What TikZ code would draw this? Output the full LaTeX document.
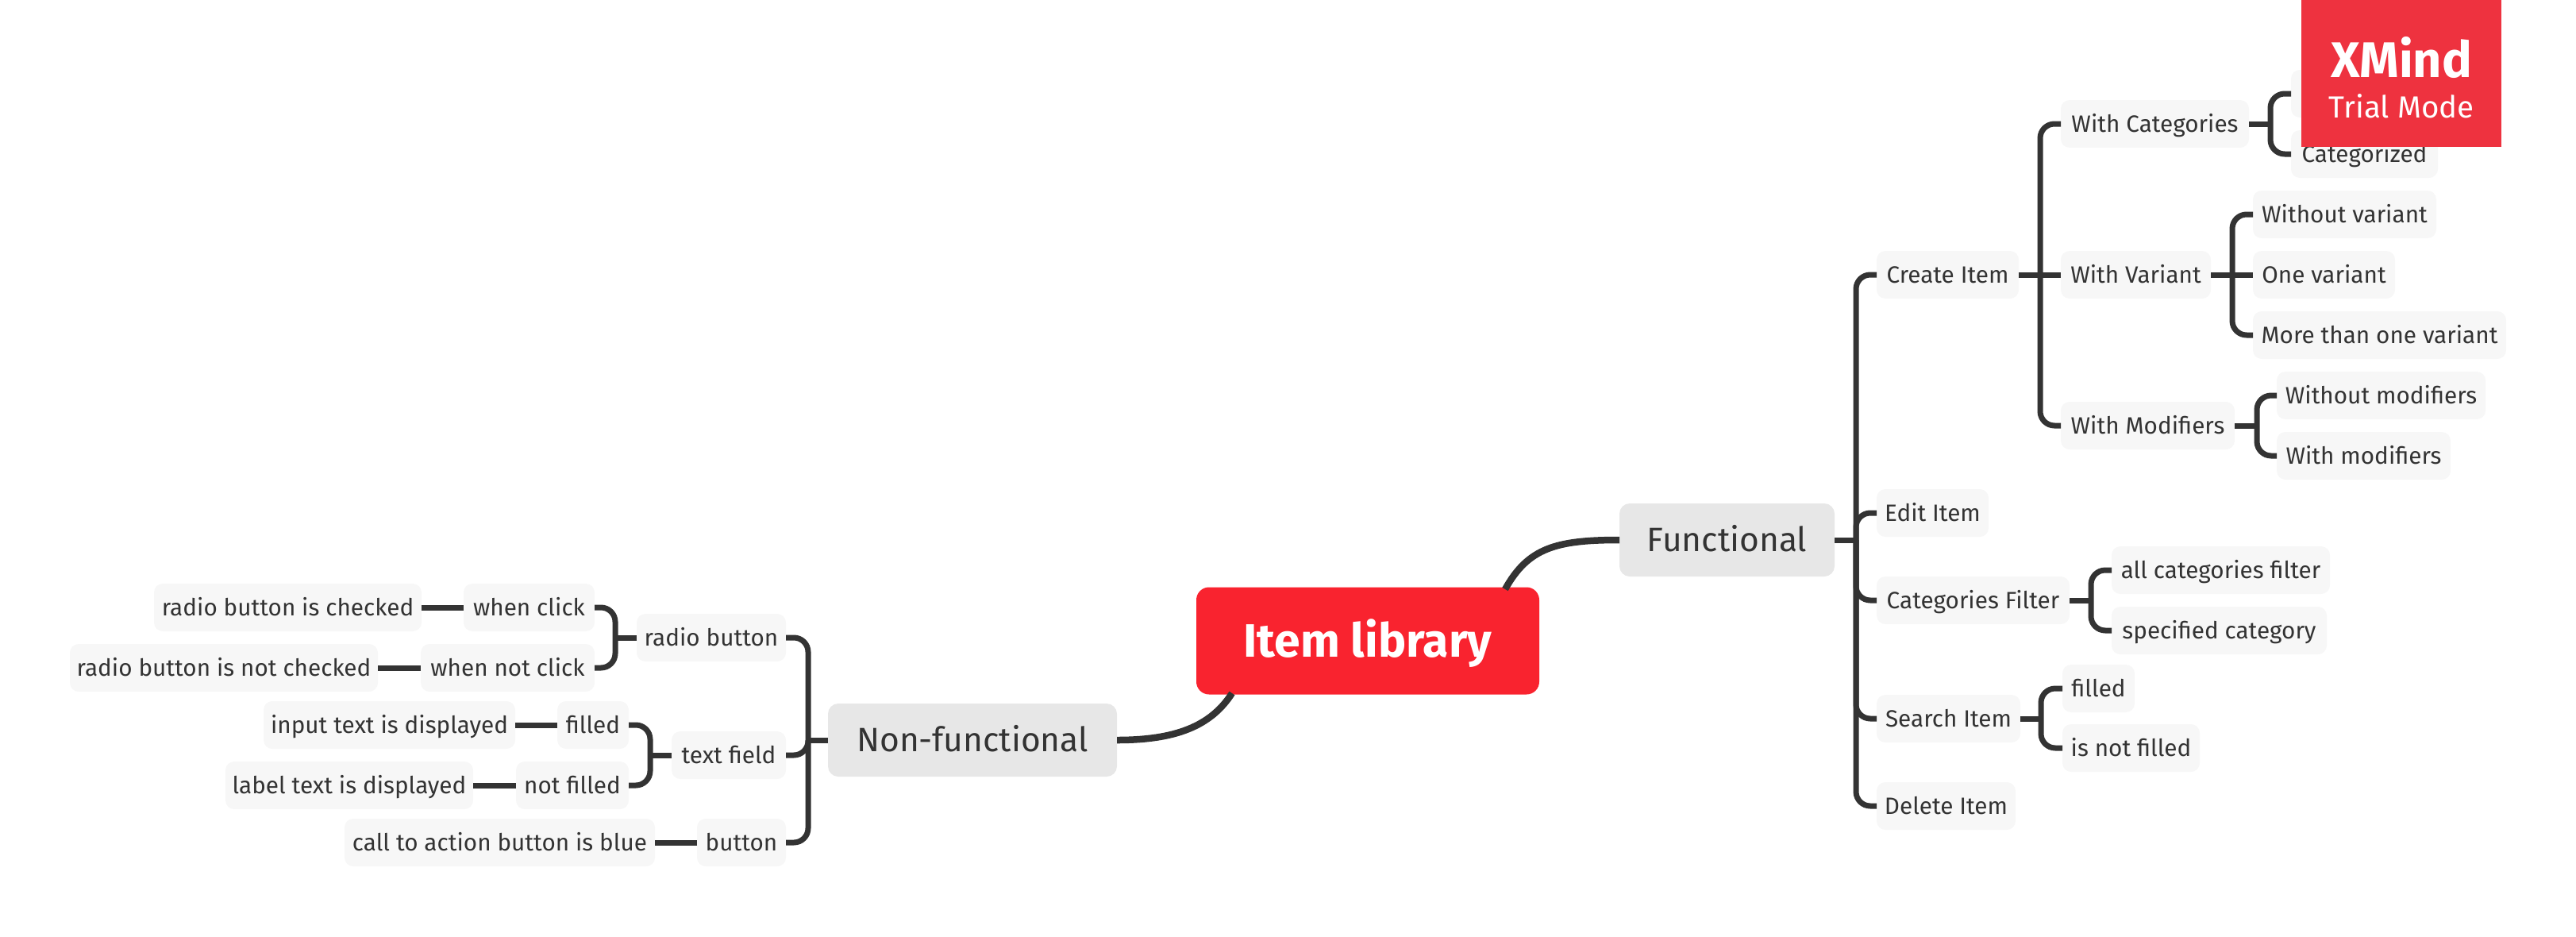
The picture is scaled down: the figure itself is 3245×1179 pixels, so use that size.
\documentclass[tikz,border=0pt]{standalone}
\usepackage{fontspec}
\setmainfont{Fira Sans}
\usetikzlibrary{calc}
\definecolor{ink}{HTML}{333333}
\definecolor{leaffill}{HTML}{F7F7F7}
\definecolor{midfill}{HTML}{E7E7E7}
\definecolor{rootred}{HTML}{F9232F}
\definecolor{badge}{HTML}{EE323F}
\tikzset{
  x=1pt,y=-1pt,
  box/.style={inner sep=0pt,outer sep=0pt,anchor=center,text depth=0pt},
  leaf/.style={box,fill=leaffill,text=ink,rounded corners=11pt,minimum height=60pt,text height=20pt,font=\fontsize{29.7}{34}\selectfont},
  mid/.style={box,fill=midfill,text=ink,rounded corners=13pt,minimum height=92pt,text height=29pt,font=\fontsize{42.5}{48}\selectfont},
  rootbox/.style={box,fill=rootred,text=white,rounded corners=16pt,minimum height=135pt,minimum width=432pt,text height=40pt,font=\fontsize{59}{68}\selectfont\bfseries},
  conn/.style={draw=ink,line width=7pt,rounded corners=18pt},
  curve/.style={draw=ink,line width=8.5pt},
}
\begin{document}
\begin{tikzpicture}
\useasboundingbox (0,0) rectangle (3245,1179);
% connectors' spines
\coordinate (sCreate) at (2570,346);
\coordinate (sVar) at (2812,346);
\coordinate (sCat) at (2860,156);
\coordinate (sMod) at (2843,536);
\coordinate (sFunc) at (2338,680);
\coordinate (sFilter) at (2634,756);
\coordinate (sSearch) at (2571,905);
\coordinate (sNon) at (1018,932);
\coordinate (sRadio) at (775,803);
\coordinate (sText) at (819,951);
% root and main topics
\node[rootbox] (root) at (1723,807) {Item library};
\node[mid,minimum width=271pt] (func) at (2175.5,680) {Functional};
\node[mid,minimum width=364pt] (non) at (1225,932) {Non-functional};
% functional
\node[leaf,minimum width=179pt] (create) at (2453.5,346) {Create Item};
\node[leaf,minimum width=141pt] (edit) at (2434.5,646) {Edit Item};
\node[leaf,minimum width=243pt] (filter) at (2485.5,756) {Categories Filter};
\node[leaf,minimum width=181pt] (search) at (2454.5,905) {Search Item};
\node[leaf,minimum width=175pt] (delete) at (2451.5,1015) {Delete Item};
\node[leaf,minimum width=237pt] (wcat) at (2714.5,156) {With Categories};
\node[leaf,minimum width=189pt] (wvar) at (2690.5,346) {With Variant};
\node[leaf,minimum width=219pt] (wmod) at (2705.5,536) {With Modifiers};
\node[leaf,minimum width=200pt] (uncat) at (2986,118) {};
\node[leaf,minimum width=185pt] (cat) at (2978.5,194) {Categorized};
\node[leaf,minimum width=231pt] (novar) at (2953.5,270) {Without variant};
\node[leaf,minimum width=179pt] (onevar) at (2927.5,346) {One variant};
\node[leaf,minimum width=319pt] (morevar) at (2997.5,422) {More than one variant};
\node[leaf,minimum width=263pt] (nomod) at (2999.5,498) {Without modifiers};
\node[leaf,minimum width=219pt] (ymod) at (2977.5,574) {With modifiers};
\node[leaf,minimum width=275pt] (allcat) at (2797.5,718) {all categories filter};
\node[leaf,minimum width=271pt] (speccat) at (2795.5,794) {specified category};
\node[leaf,minimum width=91pt] (sfilled) at (2643.5,867) {filled};
\node[leaf,minimum width=173pt] (snot) at (2684.5,942) {is not filled};
% non-functional
\node[leaf,minimum width=188pt] (radio) at (896,803) {radio button};
\node[leaf,minimum width=144pt] (tfield) at (918,951) {text field};
\node[leaf,minimum width=112pt] (btn) at (934,1061) {button};
\node[leaf,minimum width=165pt] (wclick) at (666.5,765) {when click};
\node[leaf,minimum width=219pt] (wnot) at (639.5,841) {when not click};
\node[leaf,minimum width=337pt] (rchk) at (362.5,765) {radio button is checked};
\node[leaf,minimum width=388pt] (rnot) at (282,841) {radio button is not checked};
\node[leaf,minimum width=90pt] (ffill) at (747,913) {filled};
\node[leaf,minimum width=142pt] (fnot) at (721,989) {not filled};
\node[leaf,minimum width=317pt] (finput) at (490.5,913) {input text is displayed};
\node[leaf,minimum width=312pt] (flabel) at (440,989) {label text is displayed};
\node[leaf,minimum width=391pt] (cta) at (629.5,1061) {call to action button is blue};
% curved links
\draw[curve] (func.west) .. controls (1960,680) and (1925,690) .. (1896,742);
\draw[curve] (non.east) .. controls (1480,932) and (1525,915) .. (1552,873);
% stubs
\draw[conn] (func.east) -- (sFunc);
\draw[conn] (create.east) -- (wvar.west);
\draw[conn] (wvar.east) -- (onevar.west);
\draw[conn] (wcat.east) -- (sCat);
\draw[conn] (wmod.east) -- (sMod);
\draw[conn] (filter.east) -- (sFilter);
\draw[conn] (search.east) -- (sSearch);
\draw[conn] (non.west) -- (sNon);
\draw[conn] (radio.west) -- (sRadio);
\draw[conn] (tfield.west) -- (sText);
\draw[conn] (btn.west) -- (cta.east);
\draw[conn] (wclick.west) -- (rchk.east);
\draw[conn] (wnot.west) -- (rnot.east);
\draw[conn] (ffill.west) -- (finput.east);
\draw[conn] (fnot.west) -- (flabel.east);
% spines
\draw[conn] (create.west) -| (sFunc) |- (delete.west);
\draw[conn] (sFunc) |- (edit.west);
\draw[conn] (sFunc) |- (filter.west);
\draw[conn] (sFunc) |- (search.west);
\draw[conn] (wcat.west) -| (sCreate) |- (wmod.west);
\draw[conn] (novar.west) -| (sVar) |- (morevar.west);
\draw[conn] (uncat.west) -| (sCat) |- (cat.west);
\draw[conn] (nomod.west) -| (sMod) |- (ymod.west);
\draw[conn] (allcat.west) -| (sFilter) |- (speccat.west);
\draw[conn] (sfilled.west) -| (sSearch) |- (snot.west);
\draw[conn] (radio.east) -| (sNon) |- (btn.east);
\draw[conn] (tfield.east) -| (sNon);
\draw[conn] (wclick.east) -| (sRadio) |- (wnot.east);
\draw[conn] (ffill.east) -| (sText) |- (fnot.east);
% badge
\node[box,fill=badge,minimum width=252pt,minimum height=185pt] (badgebox) at (3025,92.5) {};
\node[box,text=white,text height=41pt,font=\fontsize{63}{68}\selectfont\bfseries] (xm) at (3025,77) {XMind};
\node[box,text=white,text height=26.5pt,font=\fontsize{38.5}{42}\selectfont] (tm) at (3025,135) {Trial Mode};
\end{tikzpicture}
\end{document}
